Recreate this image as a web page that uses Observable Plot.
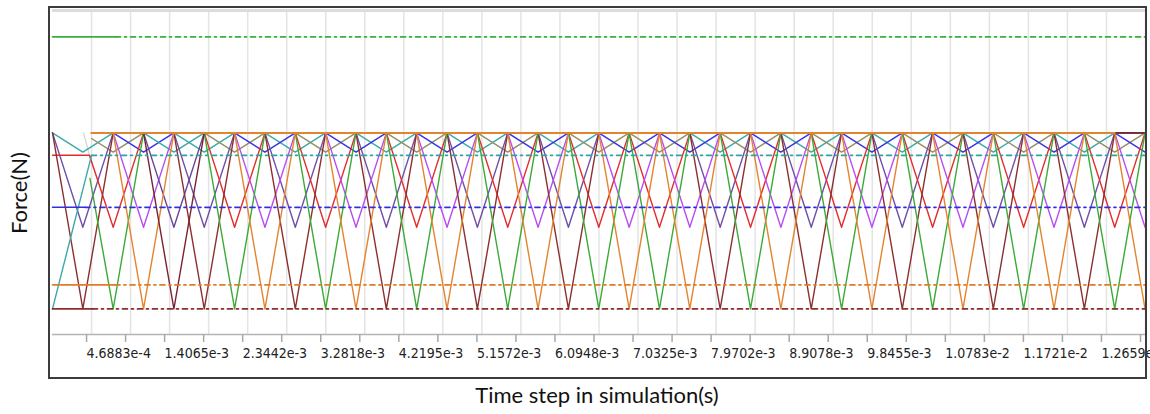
<!DOCTYPE html>
<html><head><meta charset="utf-8">
<script src="https://cdn.jsdelivr.net/npm/d3@7"></script>
<script src="https://cdn.jsdelivr.net/npm/@observablehq/plot@0.6"></script>
<style>
html,body{margin:0;padding:0;background:#fff;}
#wrap{position:relative;width:1150px;height:414px;overflow:hidden;background:#fff;}
#chart{position:absolute;left:0;top:0;}
#frame{position:absolute;left:48px;top:6px;width:1099px;height:373px;border:2px solid #3c3c3c;box-sizing:border-box;pointer-events:none;}
#ylab{position:absolute;left:19px;top:193px;line-height:22px;transform:translate(-50%,-50%) rotate(-90deg);font-family:Lato,sans-serif;font-size:22px;white-space:nowrap;color:#111;}
#xlab{position:absolute;left:597px;top:384px;line-height:22px;transform:translateX(-50%);font-family:Lato,sans-serif;font-size:22px;white-space:nowrap;color:#111;}
</style></head><body>
<div id="wrap"><div id="chart"></div><div id="frame"></div><div id="ylab">Force(N)</div><div id="xlab">Time step in simulation(s)</div></div>
<script>
// ---- axis ticks ----
const tickValues = [4.6883e-4, 9.3766e-4, 1.40649e-3, 1.87532e-3, 2.34415e-3, 2.81298e-3, 3.28181e-3, 3.75064e-3,
  4.21947e-3, 4.6883e-3, 5.15713e-3, 5.62596e-3, 6.09479e-3, 6.56362e-3, 7.03245e-3, 7.50128e-3, 7.97011e-3,
  8.43894e-3, 8.90777e-3, 9.3766e-3, 9.84543e-3, 1.031426e-2, 1.078309e-2, 1.125192e-2, 1.172075e-2,
  1.218958e-2, 1.265841e-2, 1.312724e-2];
const labelledTicks = [4.6883e-4, 1.40649e-3, 2.34415e-3, 3.28181e-3, 4.21947e-3, 5.15713e-3, 6.09479e-3,
  7.03245e-3, 7.97011e-3, 8.90777e-3, 9.84543e-3, 1.078309e-2, 1.172075e-2, 1.265841e-2];
const tickLabels = ["4.6883e-4","1.4065e-3","2.3442e-3","3.2818e-3","4.2195e-3","5.1572e-3","6.0948e-3",
  "7.0325e-3","7.9702e-3","8.9078e-3","9.8455e-3","1.0783e-2","1.1721e-2","1.2659e-2"];
const timeMax = 1.312724e-2;

// ---- switching nodes (time of each peak/trough) ----
const nodeTimes = [3.645e-4, 7.290e-4, 1.0935e-3, 1.4580e-3, 1.8225e-3, 2.1870e-3, 2.5515e-3, 2.9160e-3,
  3.2805e-3, 3.6450e-3, 4.0095e-3, 4.3740e-3, 4.7385e-3, 5.1030e-3, 5.4675e-3, 5.8320e-3, 6.1965e-3,
  6.5610e-3, 6.9255e-3, 7.2900e-3, 7.6545e-3, 8.0190e-3, 8.3835e-3, 8.7480e-3, 9.1125e-3, 9.4770e-3,
  9.8415e-3, 1.02060e-2, 1.05705e-2, 1.09350e-2, 1.12995e-2, 1.16640e-2, 1.20285e-2, 1.23930e-2,
  1.27575e-2, 1.31220e-2];
// which phase is at its minimum at each node (3 = the extra dark series seen once)
const nodePhase = [0,1,2,3, 0,1,2,0, 1,2,0,1, 2,0,1,2, 0,1,2,1, 2,0,1,2, 0,1,2,0, 1,2,0,1, 2,0,1,2];

// ---- force levels (N) ----
const greenLevel = 186;
const peakLevel = 126;
const shallowMin = 114;
const tealLevel = 112;
const blueLevel = 79.5;
const mediumMin = 67;
const orangeLevel = 31;
const deepMin = 16;
const yMax = 202.5;

// ---- series colours ----
const deepColors = ["#8c2f2f", "#3aab36", "#e3842f", "#7a2230"];     // brown, green, orange, maroon
const mediumColors = ["#6e4ea6", "#e52b2b", "#b84cf2", "#66449c"];   // purple, red, violet, purple
const shallowColors = ["#3aa9a9", "#938f64", "#3535e6", "#3aa9a9"];  // teal, olive, blue, teal

// starting points of each series (before the regular switching)
const deepLeads = [[{t: 0, f: peakLevel}], [{t: 4.5e-4, f: 97.5}], [{t: 4.6883e-4, f: peakLevel}], [{t: 1.0935e-3, f: peakLevel}]];
const mediumLeads = [[{t: 0, f: peakLevel}], [{t: 0, f: tealLevel}, {t: 4.44e-4, f: tealLevel}], [{t: 4.6883e-4, f: peakLevel}], [{t: 1.0935e-3, f: peakLevel}]];
const shallowLeads = [[{t: 0, f: peakLevel}], [{t: 4.6883e-4, f: 122.5}], [{t: 4.6883e-4, f: peakLevel}], [{t: 1.0935e-3, f: peakLevel}]];

const tealRamp = [{t: 0, f: deepMin}, {t: 4.6883e-4, f: tealLevel}];
const greyRamp = [{t: 3.72e-4, f: peakLevel}, {t: 4.8e-4, f: 105}];

// constant (reference) lines: solid until solidEnd, dash-dot afterwards
const constLines = [
  {level: greenLevel, color: "#3cae3c", solidEnd: 7.57e-4},
  {level: tealLevel, color: "#2fa3a3", solidEnd: null, start: 4.6883e-4},
  {level: blueLevel, color: "#3030e0", solidEnd: 3.9e-4},
  {level: orangeLevel, color: "#e07c28", solidEnd: 7.5e-4},
  {level: deepMin, color: "#8c2f2f", solidEnd: 4.8e-4}
];
const topLine = [{t: 4.6883e-4, f: peakLevel}, {t: 1.27575e-2, f: peakLevel}];

function wave(phase, low, lead) {
  const rows = lead.slice();
  const last = rows[rows.length - 1].t;
  nodeTimes.forEach((t, k) => {
    if (t > last) rows.push({t, f: nodePhase[k] === phase ? low : peakLevel});
  });
  return rows;
}

const marks = [];
const W = 1.4;
marks.push(Plot.gridX(tickValues, {stroke: "#e4e4e4", strokeOpacity: 1, strokeWidth: 1.5}));
marks.push(Plot.ruleY([yMax], {stroke: "#dcdcdc", strokeWidth: 3}));
marks.push(Plot.line(greyRamp, {x: "t", y: "f", stroke: "#d8d8d8", strokeWidth: W}));
[0,1,2,3].forEach(p => marks.push(Plot.line(wave(p, shallowMin, shallowLeads[p]), {x: "t", y: "f", stroke: shallowColors[p], strokeWidth: W})));
[0,1,2,3].forEach(p => marks.push(Plot.line(wave(p, mediumMin, mediumLeads[p]), {x: "t", y: "f", stroke: mediumColors[p], strokeWidth: W})));
[0,1,2,3].forEach(p => marks.push(Plot.line(wave(p, deepMin, deepLeads[p]), {x: "t", y: "f", stroke: deepColors[p], strokeWidth: W})));
marks.push(Plot.line(tealRamp, {x: "t", y: "f", stroke: "#3aa9a9", strokeWidth: W}));
constLines.forEach(c => {
  const d = c.solidEnd != null ? c.solidEnd : c.start;
  if (c.solidEnd != null) marks.push(Plot.line([{t: 0, f: c.level}, {t: c.solidEnd, f: c.level}], {x: "t", y: "f", stroke: c.color, strokeWidth: 1.6}));
  marks.push(Plot.line([{t: d, f: c.level}, {t: timeMax, f: c.level}], {x: "t", y: "f", stroke: c.color, strokeWidth: 1.7, strokeDasharray: "5,4,2,4"}));
});
marks.push(Plot.line(topLine, {x: "t", y: "f", stroke: "#e3842f", strokeWidth: 2}));
marks.push(Plot.ruleY([0], {stroke: "#b4b4b4", strokeWidth: 1.5}));
const labelMap = new Map(labelledTicks.map((v, i) => [v, tickLabels[i]]));
marks.push(Plot.axisX(tickValues, {
  label: null,
  tickSize: 8, tickPadding: 6, stroke: "#a8a8a8", strokeWidth: 1.5,
  tickFormat: d => labelMap.get(d) ?? "",
  textAnchor: "start", dx: -5, fill: "#222",
  fontSize: 14, fontFamily: "'Liberation Sans Narrow', 'DejaVu Sans Condensed', sans-serif"
}));

const chart = Plot.plot({
  width: 1150, height: 380,
  marginLeft: 52, marginRight: 5, marginTop: 10, marginBottom: 46,
  x: {domain: [0, timeMax], axis: null},
  y: {domain: [0, yMax], axis: null},
  style: {background: "transparent", overflow: "hidden"},
  marks
});
document.getElementById("chart").appendChild(chart);
</script>
</body></html>
